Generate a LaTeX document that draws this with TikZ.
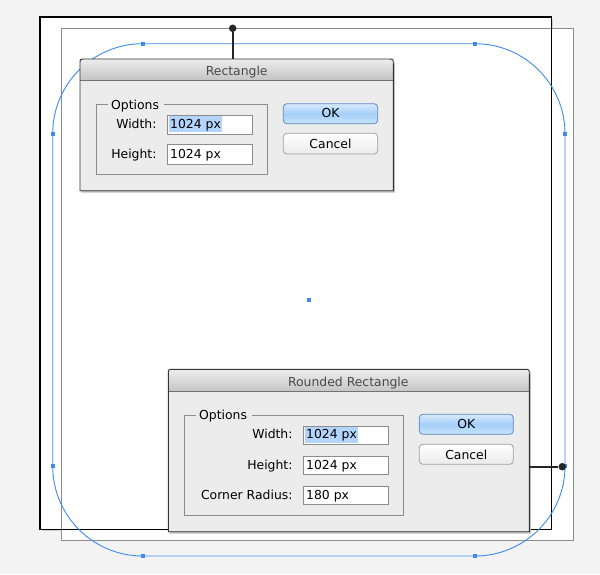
\documentclass[tikz,border=0pt]{standalone}
\usepackage{fontspec}
\setmainfont{DejaVu Sans}
\definecolor{bg}{HTML}{F3F3F3}
\definecolor{selblue}{HTML}{3D8BF2}
\definecolor{grayline}{HTML}{8C8C8C}
\definecolor{dlgbody}{HTML}{ECECEC}
\definecolor{titletop}{HTML}{EDEDED}
\definecolor{titlebot}{HTML}{C4C4C4}
\definecolor{hilite}{HTML}{B3D4FC}
\definecolor{titletext}{HTML}{4A4A4A}
\definecolor{okborder}{HTML}{5F86C4}
\definecolor{oktop}{HTML}{D6EAFD}
\definecolor{okmid}{HTML}{A4CFF8}
\definecolor{okbot}{HTML}{C9E5FD}
\definecolor{cnborder}{HTML}{A0A0A0}
\definecolor{conncol}{HTML}{262626}
\tikzset{
  anchorsq/.style={fill=selblue, draw=none, minimum size=4.2pt, inner sep=0pt, rectangle},
  dotnode/.style={circle, fill=conncol, draw=none, minimum size=7.5pt, inner sep=0pt},
  conn/.style={draw=conncol, line width=2.4pt},
  field/.style={draw=grayline, fill=white, line width=0.9pt, inner sep=0pt, rectangle, anchor=north west},
  grouptext/.style={anchor=base west, inner sep=0pt, text=black},
  lbl/.style={anchor=base east, inner sep=0pt, text=black},
  fieldtext/.style={anchor=base west, inner sep=0pt, text=black},
  titlelbl/.style={anchor=base, inner sep=0pt, text=titletext},
  okbtn/.style={draw=okborder, line width=0.8pt, rounded corners=3.5pt, top color=oktop, bottom color=okbot, middle color=okmid},
  cnbtn/.style={draw=cnborder, line width=0.8pt, rounded corners=3.5pt, top color=white, bottom color=white!92!black},
  btntext/.style={anchor=base, inner sep=0pt, text=black},
}
\newcommand{\dlgpath}[4]{(#1,#4) -- (#1,#2+5) .. controls (#1,#2) .. (#1+5,#2) -- (#3-5,#2) .. controls (#3,#2) .. (#3,#2+5) -- (#3,#4) -- cycle}
\begin{document}
\begin{tikzpicture}[x=1pt,y=-1pt, font=\fontsize{12.4}{14}\selectfont]
\useasboundingbox (0,0) rectangle (600,574);
\fill[bg] (0,0) rectangle (600,574);
% artboard shadow and fills
\fill[black!18] (41.5,18.5) rectangle (553,531);
\fill[white] (40,17) rectangle (551.3,529.3);
\fill[white] (61.7,28.3) rectangle (573.3,540.3);
\draw[grayline, line width=1pt] (61.7,28.3) rectangle (573.3,540.3);
\draw[black, line width=1.2pt] (40,17) rectangle (551.3,529.3);
% blue rounded rectangle
\draw[selblue, line width=0.9pt, rounded corners=90pt] (52.7,43.7) rectangle (565,556);
\foreach \p/\n in {143/a1,475/a2}{
  \node[anchorsq] (\n t) at (\p,43.7) {};
  \node[anchorsq] (\n b) at (\p,556) {};
}
\foreach \q/\n in {134/b1,466/b2}{
  \node[anchorsq] (\n l) at (52.7,\q) {};
  \node[anchorsq] (\n r) at (565,\q) {};
}
\node[anchorsq] (ctr) at (309,300) {};

% ===== Dialog 1 =====
\fill[black!25] \dlgpath{81}{60.5}{394.8}{192.5};
\fill[dlgbody] \dlgpath{80}{59}{393.3}{190.7};
\shade[top color=titletop, bottom color=titlebot] \dlgpath{80}{59}{393.3}{80.3};
\draw[black!55, line width=0.7pt] (80,80.3) -- (393.3,80.3);
\draw[black!80, line width=0.9pt] \dlgpath{80}{59}{393.3}{190.7};
\node[titlelbl] (t1) at (236.7,75) {Rectangle};
\coordinate (d1top) at (232.7,59);
% group
\draw[grayline, line width=0.9pt] (108,104.3) -- (96.7,104.3) -- (96.7,174.3) -- (267.7,174.3) -- (267.7,104.3) -- (164,104.3);
\node[grouptext] (g1) at (111,109) {Options};
\node[lbl] (l1w) at (156.7,128.3) {Width:};
\node[lbl] (l1h) at (156.7,158.3) {Height:};
\node[field, minimum width=84.4pt, minimum height=18.7pt] (f1w) at (167.3,115) {};
\fill[hilite] (168.6,116.3) rectangle (221.7,132.4);
\node[field, minimum width=84.4pt, minimum height=19.3pt] (f1h) at (167.3,144.3) {};
\node[fieldtext] (v1w) at (170,128.3) {1024 px};
\node[fieldtext] (v1h) at (170,158.3) {1024 px};
\path[okbtn] (283.3,103.7) rectangle (377.7,123.7);
\node[btntext] (ok1) at (330.5,117.7) {OK};
\path[cnbtn] (283.3,133.3) rectangle (377.7,154);
\node[btntext] (cn1) at (330.5,148.3) {Cancel};

% ===== Dialog 2 =====
\fill[black!25] \dlgpath{169.3}{370.8}{530.8}{533.5};
\fill[dlgbody] \dlgpath{168.3}{369.3}{529.3}{531.7};
\shade[top color=titletop, bottom color=titlebot] \dlgpath{168.3}{369.3}{529.3}{391.7};
\draw[black!55, line width=0.7pt] (168.3,391.7) -- (529.3,391.7);
\draw[black!80, line width=0.9pt] \dlgpath{168.3}{369.3}{529.3}{531.7};
\node[titlelbl] (t2) at (348.3,386) {Rounded Rectangle};
\coordinate (d2right) at (529.3,466.7);
\draw[grayline, line width=0.9pt] (195.5,415.7) -- (184.3,415.7) -- (184.3,515.3) -- (403.7,515.3) -- (403.7,415.7) -- (252,415.7);
\node[grouptext] (g2) at (199,419.7) {Options};
\node[lbl] (l2w) at (292.7,438.7) {Width:};
\node[lbl] (l2h) at (292.7,469) {Height:};
\node[lbl] (l2r) at (292.7,499) {Corner Radius:};
\node[field, minimum width=84.4pt, minimum height=18.7pt] (f2w) at (303.3,425.7) {};
\fill[hilite] (304.6,427) rectangle (357.7,443);
\node[field, minimum width=84.4pt, minimum height=18.7pt] (f2h) at (303.3,455.7) {};
\node[field, minimum width=84.4pt, minimum height=18.7pt] (f2r) at (303.3,485.7) {};
\node[fieldtext] (v2w) at (306,438.7) {1024 px};
\node[fieldtext] (v2h) at (306,469) {1024 px};
\node[fieldtext] (v2r) at (306,499) {180 px};
\path[okbtn] (419.3,414.3) rectangle (513.3,434.3);
\node[btntext] (ok2) at (466.3,428.3) {OK};
\path[cnbtn] (419.3,444.3) rectangle (513.3,464.3);
\node[btntext] (cn2) at (466.3,459) {Cancel};

% connectors
\node[dotnode] (p1) at (232.7,28.3) {};
\draw[conn] (p1) -- (d1top);
\node[dotnode] (p2) at (562.3,466.7) {};
\draw[conn] (d2right) -- (p2);
\end{tikzpicture}
\end{document}
